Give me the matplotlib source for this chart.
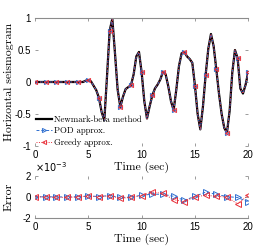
import numpy as np
import matplotlib
matplotlib.use("Agg")
import matplotlib.pyplot as plt

time_step = 0.25
newmark = [
    0, 0, 0, 0, 0, 0, 0, 0, 0, 0, 0, 0, 0, 0, 0, 0, 0, 0, 0,
    0.02, 0.03, 0.01, -0.06, -0.13, -0.25, -0.47, -0.60, 0.08, 0.80,
    0.99, 0.45, -0.12, -0.39, -0.23, -0.11, -0.08, -0.05, 0.12, 0.40,
    0.47, 0.15, -0.30, -0.57, -0.38, -0.21, -0.10, -0.04, 0.04, 0.16,
    0.12, -0.07, -0.30, -0.44, -0.12, 0.25, 0.45, 0.47, 0.40, 0.36,
    0.30, -0.06, -0.50, -0.74, -0.38, 0.11, 0.52, 0.75, 0.56, 0.20,
    -0.18, -0.50, -0.72, -0.79, -0.45, 0.15, 0.50, 0.37, -0.10, -0.18,
    -0.04, 0.16,
]
# reduced models differ by ~1e-4, so they sit on the reference curve
pod_approx = newmark
greedy_approx = newmark

# errors at whole seconds (x 1e-3)
err_time = list(range(0, 21))
pod_err = [0, 0, 0, -0.02, 0, 0.08, 0.03, 0.12, -0.06, -0.02, 0.15,
           0.25, 0.24, 0.05, -0.33, 0.05, 0.45, 0.24, 0.02, -0.06, -0.48]
greedy_err = [0, 0, -0.05, -0.06, 0, 0.06, 0.03, 0.10, -0.14, -0.05, 0.12,
              0.45, 0.32, -0.27, -0.45, 0.0, 0.15, 0.05, -0.02, -0.67, 0.15]

t = np.arange(len(newmark)) * time_step

plt.rcParams.update({
    "font.family": "sans-serif",
    "font.sans-serif": ["Liberation Sans"],
    "font.size": 7,
    "axes.unicode_minus": False,
})

BLUE = "#2f6fd0"
RED = "#e8303a"
GRAY = "#8c8c8c"
serif = ["cmr10", "DejaVu Serif"]

fig = plt.figure(figsize=(2.74, 2.49), dpi=100)
ax1 = fig.add_axes([0.1277, 0.4137, 0.7785, 0.514])
ax2 = fig.add_axes([0.1277, 0.1245, 0.7785, 0.170])

ax1.plot(t, newmark, color="black", lw=1.6, label="Newmark-beta method")
ax1.plot(t, pod_approx, color=BLUE, lw=0.7, ls=(0, (3, 2)), marker=">",
         markevery=4, ms=3.0, mfc="none", mew=0.7, label="POD approx.")
ax1.plot(t, greedy_approx, color=RED, lw=0.7, ls=(0, (1, 1.5)), marker="<",
         markevery=4, ms=3.0, mfc="none", mew=0.7, label="Greedy approx.")

ax2.plot(err_time, pod_err, color=BLUE, lw=0.7, ls=(0, (3, 2)), marker=">",
         ms=3.8, mfc="none", mew=0.7)
ax2.plot(err_time, greedy_err, color=RED, lw=0.7, ls=(0, (1, 1.5)), marker="<",
         ms=3.8, mfc="none", mew=0.7)

ax1.set_xlim(0, 20)
ax1.set_ylim(-1, 1)
ax1.set_yticks([-1, -0.5, 0, 0.5, 1])
ax1.set_yticklabels(["-1", "-0.5", "0", "0.5", "1"])
ax2.set_xlim(0, 20)
ax2.set_ylim(-2, 2)
ax2.set_yticks([-2, 0, 2])
ax2.set_yticklabels(["-2", "0", "2"])
for ax in (ax1, ax2):
    ax.set_xticks([0, 5, 10, 15, 20])
    ax.tick_params(direction="in", length=2, width=0.6, color=GRAY,
                   labelsize=7, pad=3, top=True, right=True)
    for side in ("left", "right"):
        ax.spines[side].set_visible(False)
    ax.set_xlabel("Time (sec)", family=serif, fontsize=8.5, labelpad=1)
    ax.yaxis.set_label_coords(-0.1, 0.5)
ax1.spines["bottom"].set_visible(False)
ax1.spines["top"].set_color(GRAY)
ax1.spines["top"].set_linewidth(0.8)
ax2.spines["top"].set_visible(False)
ax2.spines["bottom"].set_color(GRAY)
ax2.spines["bottom"].set_linewidth(0.8)

ax1.set_ylabel("Horizontal seismogram", family=serif, fontsize=8.5)
ax2.set_ylabel("Error", family=serif, fontsize=8.5)
ax2.text(0.0, 1.03, r"$\times10^{-3}$", transform=ax2.transAxes,
         fontsize=7, ha="left", va="bottom")

ax1.legend(loc="lower left", bbox_to_anchor=(0.005, -0.005), frameon=False,
           prop={"family": serif, "size": 6.3}, handlelength=1.8,
           handletextpad=0.2, labelspacing=0.35, borderpad=0, borderaxespad=0)

fig.savefig("out.png", dpi=100)
